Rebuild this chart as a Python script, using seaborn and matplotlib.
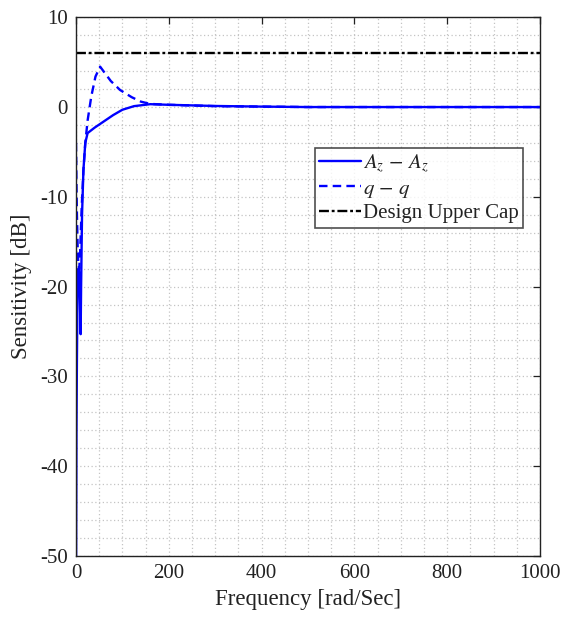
import numpy as np
import pandas as pd
import matplotlib
matplotlib.use("Agg")
import matplotlib.pyplot as plt
from matplotlib.ticker import MultipleLocator
import seaborn as sns

# Sensitivity of the A_z loop (frequency in rad/s, magnitude in dB)
freq_az = [0.0, 0.5, 1.0, 2.0, 3.0, 4.0, 5.0, 6.0, 7.0, 8.0, 9.0, 10.0, 11.0,
           13.0, 16.0, 20.0, 25.0, 40.0, 60.0, 80.0, 100.0, 125.0, 160.0,
           200.0, 300.0, 400.0, 500.0, 700.0, 1000.0]
sens_az = [-55.0, -45.0, -36.0, -28.0, -22.0, -18.5, -18.0, -18.2, -18.8, -20.0,
           -23.0, -25.3, -20.0, -12.0, -7.0, -4.0, -2.9, -2.3, -1.6, -0.9,
           -0.3, 0.1, 0.32, 0.25, 0.12, 0.05, 0.0, 0.0, 0.0]

# Sensitivity of the q loop
freq_q = [0.0, 0.5, 1.0, 2.0, 3.5, 5.0, 7.0, 9.0, 12.0, 16.0, 20.0, 25.0, 33.0,
          42.0, 52.0, 62.0, 75.0, 95.0, 120.0, 140.0, 160.0, 200.0, 300.0,
          400.0, 500.0, 700.0, 1000.0]
sens_q = [-4.0, -6.0, -8.5, -12.0, -15.5, -17.5, -18.0, -16.0, -11.5, -7.0, -4.0,
          -1.5, 1.2, 3.4, 4.5, 3.8, 2.9, 1.9, 1.1, 0.6, 0.35, 0.25, 0.1, 0.05,
          0.0, 0.0, 0.0]

# Design upper cap on sensitivity
freq_cap = [0.0, 1000.0]
sens_cap = [6.0, 6.0]

labels = ["$A_z\\,-\\,A_z$", "$q\\,-\\,q$", "Design Upper Cap"]

sns.set_style("white")
plt.rcParams["font.family"] = ["Liberation Serif", "DejaVu Serif"]
plt.rcParams["mathtext.fontset"] = "stix"
plt.rcParams["axes.unicode_minus"] = False

fig = plt.figure(figsize=(5.63, 6.17), dpi=100)
ax = fig.add_axes([0.135, 0.099, 0.824, 0.873])

sns.lineplot(x=freq_az, y=sens_az, ax=ax, color="#0000ff", linewidth=1.7,
             label=labels[0], sort=False)
sns.lineplot(x=freq_q, y=sens_q, ax=ax, color="#0000ff", linewidth=1.7,
             linestyle=(0, (3.6, 2.2)), label=labels[1], sort=False)
sns.lineplot(x=freq_cap, y=sens_cap, ax=ax, color="black", linewidth=1.7,
             linestyle=(0, (4.2, 1.2, 1.2, 1.2)), label=labels[2], sort=False)

ax.set_xlim(0, 1000)
ax.set_ylim(-50, 10)
ax.xaxis.set_major_locator(MultipleLocator(200))
ax.yaxis.set_major_locator(MultipleLocator(10))
ax.xaxis.set_minor_locator(MultipleLocator(50))
ax.yaxis.set_minor_locator(MultipleLocator(2))

ax.grid(True, which="both", linestyle=(0, (1, 2)), color="#c4c4c4",
        linewidth=0.9)
ax.set_axisbelow(True)
ax.tick_params(which="major", direction="in", length=5, width=0.9,
               top=True, right=True, labelsize=15, colors="#222222", pad=6)
ax.tick_params(which="minor", length=0, top=True, right=True)
for sp in ax.spines.values():
    sp.set_color("#222222")
    sp.set_linewidth(1.0)

ax.set_xlabel("Frequency [rad/Sec]", fontsize=16.5, color="#222222", labelpad=4)
ax.set_ylabel("Sensitivity [dB]", fontsize=16.5, color="#222222", labelpad=6)

leg = ax.legend(loc="upper right", bbox_to_anchor=(0.963, 0.757),
                fontsize=15, frameon=True, fancybox=False,
                edgecolor="#222222", handlelength=2.0, handletextpad=0.1,
                borderpad=0.2, labelspacing=0.2, borderaxespad=0)
leg.get_frame().set_linewidth(1.2)
for t in leg.get_texts():
    t.set_color("#222222")

fig.savefig("out.png", dpi=100)
